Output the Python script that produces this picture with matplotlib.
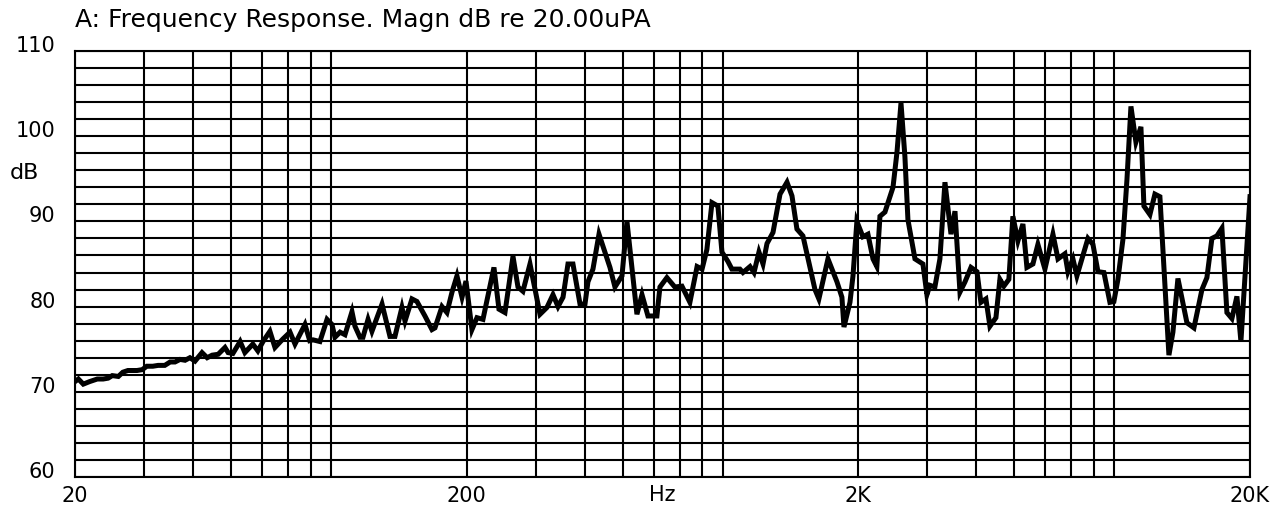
"""Frequency response plot (magnitude in dB re 20 uPa) on a log frequency axis."""

import matplotlib

matplotlib.use("Agg")
import matplotlib.pyplot as plt
from matplotlib.ticker import FixedLocator, MultipleLocator, NullFormatter

# vertices
freq_hz = [
    20.0, 20.4, 21.0, 21.8, 22.8, 23.6, 24.3, 24.9, 25.8, 26.5, 27.3, 28.8,
    29.7, 30.5, 31.6, 32.6, 33.9, 35.0, 36.0, 37.1, 38.2, 39.3, 40.5, 42.2,
    43.5, 44.8, 46.4, 48.3, 49.2, 50.6, 52.8, 54.3, 56.9, 58.6, 60.4, 62.9,
    64.8, 67.9, 70.8, 72.9, 77.3, 79.5, 81.0, 84.4, 88.0, 90.6, 92.2, 95.0,
    97.8, 101.9, 103.7, 106.8, 108.7, 112.0, 114.6, 121.6, 127.4, 131.2,
    136.7, 139.2, 145.0, 149.3, 156.5, 163.1, 166.0, 173.0, 178.1, 183.5,
    188.9, 194.6, 199.2, 206.3, 212.5, 220.1, 234.8, 241.8, 250.5, 262.6,
    270.4, 278.4, 290.2, 307.8, 320.6, 332.2, 342.2, 352.4, 362.8, 373.6,
    389.4, 401.0, 408.0, 420.2, 435.4, 464.4, 478.2, 498.4, 513.2, 544.2,
    560.6, 580.6, 612, 623, 649, 680, 709, 743, 775, 798, 821, 846, 876,
    897, 929, 951, 997, 1015, 1058, 1083, 1115, 1142, 1169, 1211, 1262,
    1315, 1354, 1394, 1444, 1550, 1586, 1673, 1764, 1816, 1838, 1904, 1938,
    1983, 2054, 2116, 2180, 2230, 2271, 2339, 2452, 2510, 2570, 2630, 2677,
    2790, 2924, 2993, 3046, 3137, 3231, 3328, 3448, 3530, 3635, 3744, 3878,
    4017, 4111, 4234, 4335, 4491, 4597, 4705, 4846, 4962, 5110, 5263, 5388,
    5582, 5748, 5990, 6279, 6467, 6737, 6857, 7062, 7229, 7714, 7944, 8181,
    8473, 8777, 8985, 9202, 9476, 9702, 9932, 10228, 10533, 10720, 11104,
    11436, 11776, 12417, 12712, 13092, 13804, 14385, 15078, 15524, 15988,
    16464, 16956, 17461, 17982, 18519, 18960, 19638, 20000,
]
magn_db = [
    71.2, 71.5, 70.9, 71.2, 71.5, 71.5, 71.6, 71.9, 71.8, 72.3, 72.5, 72.5,
    72.6, 73.0, 73.0, 73.1, 73.1, 73.5, 73.5, 73.8, 73.7, 74.0, 73.6, 74.6,
    74.0, 74.3, 74.4, 75.2, 74.6, 74.5, 75.9, 74.6, 75.6, 74.8, 75.9, 77.1,
    75.2, 76.2, 77.0, 75.6, 77.9, 76.0, 76.1, 75.9, 78.5, 77.9, 76.4, 77.0,
    76.7, 79.4, 77.7, 76.4, 76.4, 78.5, 77.1, 80.3, 76.5, 76.5,
    79.9, 78.3, 80.9, 80.6, 78.9, 77.3, 77.5, 80.0, 79.3, 81.7,
    83.6, 81.1, 83.0, 77.3, 78.7, 78.5, 84.6, 79.7, 79.3, 85.9,
    82.3, 81.8, 85.0, 79.1, 79.9, 81.4, 80.0, 81.1, 85.0, 85.0,
    80.3, 80.3, 82.9, 84.4, 88.5, 84.6, 82.3, 83.6, 90.0, 79.1,
    81.4, 78.9, 78.9, 82.3, 83.4, 82.3, 82.4, 80.5, 84.7, 84.4, 86.7, 92.2, 91.8,
    86.4, 85.3, 84.4, 84.4, 84.0, 84.7, 84.0, 86.4, 85.0, 87.4, 88.7, 93.2,
    94.6, 93.0, 89.1, 88.3, 82.0, 80.9, 85.6, 82.9, 81.1, 77.6, 80.5, 83.6,
    90.0, 88.2, 88.5, 85.6, 84.7, 90.6, 91.1, 94.0, 98.1, 103.9, 97.6, 90.2,
    85.6, 85.0, 81.4, 82.5, 82.3, 85.6, 94.6, 88.5, 91.2, 81.7, 82.9, 84.6,
    84.1, 80.5, 80.9, 77.7, 78.7, 83.2, 82.4, 83.2, 90.6, 87.7, 89.7, 84.6,
    85.0, 87.3, 84.4, 88.5, 85.6, 86.2, 84.1, 85.6, 83.6, 88.0, 87.3, 84.1,
    84.0, 80.5, 80.6, 83.2, 87.9, 94.9, 103.5, 99.3, 101.1, 91.8, 90.8,
    93.2, 92.9, 74.3, 77.0, 83.3, 78.1, 77.5, 82.0, 83.4, 88.0,
    88.3, 89.2, 79.3, 78.6, 81.2, 75.9, 87.0, 92.9,
]

x_major = [20, 200, 2000, 20000]
x_major_labels = ["20", "200", "2K", "20K"]
y_major = [60, 70, 80, 90, 100, 110]

TITLE = "A: Frequency Response. Magn dB re 20.00uPA"

W, H = 1286, 510
fig = plt.figure(figsize=(W / 100, H / 100), dpi=100)
ax = fig.add_axes([75 / W, 1 - 478 / H, 1175 / W, 426 / H])

ax.plot(freq_hz, magn_db, color="black", lw=3.6, solid_joinstyle="miter")

ax.set_xscale("log")
ax.set_xlim(20, 20000)
ax.set_ylim(60, 110)

ax.set_xticks(x_major, x_major_labels)
minor = [m * 10 ** e for e in range(1, 4) for m in range(2, 10)]
ax.xaxis.set_minor_locator(FixedLocator(minor))
ax.xaxis.set_minor_formatter(NullFormatter())
ax.set_yticks(y_major, [str(v) for v in y_major])
ax.yaxis.set_minor_locator(MultipleLocator(2))

ax.grid(True, which="both", color="black", lw=1.5)
ax.set_axisbelow(True)
for s in ax.spines.values():
    s.set_linewidth(1.5)

ax.tick_params(which="both", length=0)
ax.tick_params(axis="x", pad=6, labelsize=15)
ax.tick_params(axis="y", pad=14, labelsize=15)
for lbl in ax.get_yticklabels():
    lbl.set_verticalalignment("baseline")

ax.text(0.5, -0.017, "Hz", transform=ax.transAxes, ha="center", va="top",
        fontsize=15)
ax.text(-0.0553, 0.716, "dB", transform=ax.transAxes, ha="left",
        va="center", fontsize=16)
fig.text(75 / W, 1 - 27 / H, TITLE, ha="left", va="baseline", fontsize=18)

fig.savefig("out.png", dpi=100)
